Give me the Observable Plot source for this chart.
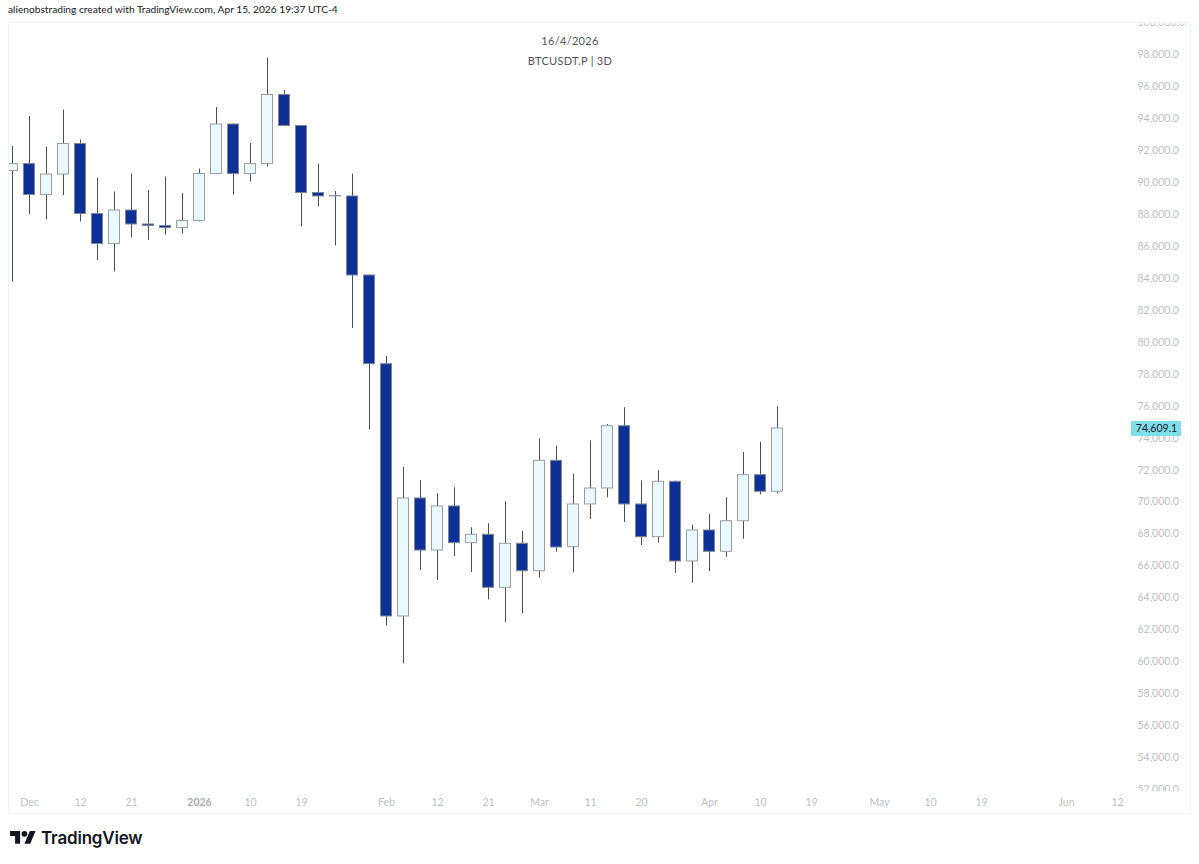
<!DOCTYPE html>
<html>
<head>
<meta charset="utf-8">
<script src="https://cdn.jsdelivr.net/npm/d3@7"></script>
<script src="https://cdn.jsdelivr.net/npm/@observablehq/plot@0.6"></script>
<style>
  html, body { margin: 0; padding: 0; background: #fff; }
  body { width: 1199px; height: 864px; position: relative; overflow: hidden; font-family: Lato, sans-serif; }
  #chart { position: absolute; left: 0; top: 0; }
  #chart svg { background: transparent; display: block; }
  .abs { position: absolute; white-space: nowrap; }
  #header { left: 8px; top: 2px; font-size: 10.2px; line-height: 14px; color: #131722; }
  #border { left: 8px; top: 22px; width: 1181px; height: 790px; border: 1px solid #f0f3fa; box-sizing: content-box; pointer-events: none; }
  .wm { left: 9px; width: 1122px; text-align: center; color: #50535e; font-size: 11px; line-height: 14px; letter-spacing: 0.3px; }
  #logo { left: 10px; top: 826px; display: flex; align-items: center; height: 24px; color: #131722; }
  #logo svg { width: 26px; height: 20.2px; display: block; }
  #logo span { margin-left: 5px; font-family: Inter, sans-serif; font-weight: 600; font-size: 17px; letter-spacing: -0.2px; }
</style>
</head>
<body>
<div id="chart"></div>
<div id="border" class="abs"></div>
<div id="header" class="abs">alienobstrading created with TradingView.com, Apr 15, 2026 19:37 UTC-4</div>
<div class="abs wm" style="top:34px">16/4/2026</div>
<div class="abs wm" style="top:54px">BTCUSDT.P | 3D</div>
<div id="logo" class="abs">
  <svg viewBox="0 0 36 28" fill="currentColor"><path d="M14 22H7V11H0V4h14v18zM28 22h-8l7.5-18h8L28 22z"/><circle cx="20" cy="8" r="4"/></svg>
  <span>TradingView</span>
</div>
<script>
const opens = [90735,91170,89230,90515,92425,88040,86165,88260,87385,87290,87165,87605,90545,93645,90545,91170,95495,93555,89355,89140,89140,84190,78635,62835,70225,66965,69725,67425,67950,64630,67385,65670,72585,67175,69850,70850,74750,69850,67800,71270,66280,68220,66885,68800,71685,70645];
const closes = [91170,89230,90515,92425,88040,86165,88260,87385,87290,87165,87605,90545,93645,90545,91170,95495,93555,89355,89140,89170,84190,78635,62835,70225,66965,69725,67425,67950,64630,67385,65670,72585,67155,69850,70850,74750,69850,67800,71270,66280,68220,66885,68800,71685,70645,74609];
const highs = [92270,94150,92225,94555,92675,90295,89420,90545,89515,90360,89325,90860,94710,93680,92455,97810,95775,93555,91170,89450,90545,84220,79115,72185,71350,70520,70895,68390,68640,70015,68175,73960,73500,71745,73835,74860,75905,71330,71960,71300,68550,69220,70270,73105,73750,75965];
const lows = [83780,88010,87665,89200,87540,85130,84410,86540,86380,86725,86790,87540,90500,89230,90045,90985,93510,87230,88480,86040,80870,74525,62250,59870,65715,65090,66590,65590,63880,62455,63000,65230,66860,65570,68910,70270,68720,67280,67425,65525,64920,65650,66545,67675,70455,70515];

const priceTicks = [100000,98000,96000,94000,92000,90000,88000,86000,84000,82000,80000,78000,76000,74000,72000,70000,68000,66000,64000,62000,60000,58000,56000,54000,52000];
const timeTickIndex = [1,4,7,11,14,17,22,25,28,31,34,37,41,44,47,51,54,57,62,65];
const timeTickLabels = ["Dec","12","21","2026","10","19","Feb","12","21","Mar","11","20","Apr","10","19","May","10","19","Jun","12"];
const lastPrice = 74609.1;

const candles = opens.map((open, i) => ({i, open, close: closes[i], high: highs[i], low: lows[i]}));
const up = candles.filter(d => d.close >= d.open);
const down = candles.filter(d => d.close < d.open);
const halfBody = 5.5 / 17;
const axisColor = "#bdbfc3";
const labelFor = new Map(timeTickIndex.map((t, k) => [t, timeTickLabels[k]]));

const plot = Plot.plot({
  width: 1199, height: 864,
  marginLeft: 9, marginRight: 68, marginTop: 22, marginBottom: 73,
  style: {fontFamily: 'Lato, sans-serif', fontSize: "11px", background: "transparent"},
  x: {type: "linear", domain: [-3 / 17, 1119 / 17], label: null},
  y: {type: "linear", domain: [51873, 100035], label: null},
  marks: [
    Plot.axisY(priceTicks, {anchor: "right", tickSize: 0, tickPadding: 6, tickFormat: d3.format(",.1f"), color: axisColor, label: null, fontSize: 10.5}),
    Plot.axisX(timeTickIndex.filter(t => t !== 11), {anchor: "bottom", tickSize: 0, tickPadding: 7, tickFormat: t => labelFor.get(t), color: axisColor, label: null, fontSize: 10.5}),
    Plot.axisX([11], {anchor: "bottom", tickSize: 0, tickPadding: 7, tickFormat: t => labelFor.get(t), color: "#a9abb0", fontWeight: "bold", label: null, fontSize: 10.5}),
    Plot.ruleX(candles, {x: "i", y1: "low", y2: "high", stroke: "#4a4d52", strokeWidth: 1, clip: true}),
    Plot.rect(up, {x1: d => d.i - halfBody, x2: d => d.i + halfBody, y1: "open", y2: "close", fill: "#e9f9fd", stroke: "#9a9da3", strokeWidth: 1, inset: 0, clip: true}),
    Plot.rect(down, {x1: d => d.i - halfBody, x2: d => d.i + halfBody, y1: "open", y2: "close", fill: "#0c2f98", stroke: "#7d8792", strokeWidth: 1, inset: 0, clip: true}),
    Plot.ruleY([lastPrice], {x1: 1119 / 17, x2: 1169 / 17, stroke: "#80deea", strokeWidth: 15}),
    Plot.text([lastPrice], {x: 1144 / 17, y: d => d, text: d3.format(",.1f"), fill: "#131722", fontSize: 10.5})
  ]
});
document.getElementById("chart").appendChild(plot);

// The price labels are cut off at the top and bottom of the pane.
const clip = d3.select(plot).append("defs").append("clipPath").attr("id", "pricepane");
clip.append("rect").attr("x", 1131).attr("y", 23).attr("width", 60).attr("height", 768);
d3.select(plot).selectAll('[aria-label="y-axis tick label"]').attr("clip-path", "url(#pricepane)");
</script>
</body>
</html>
